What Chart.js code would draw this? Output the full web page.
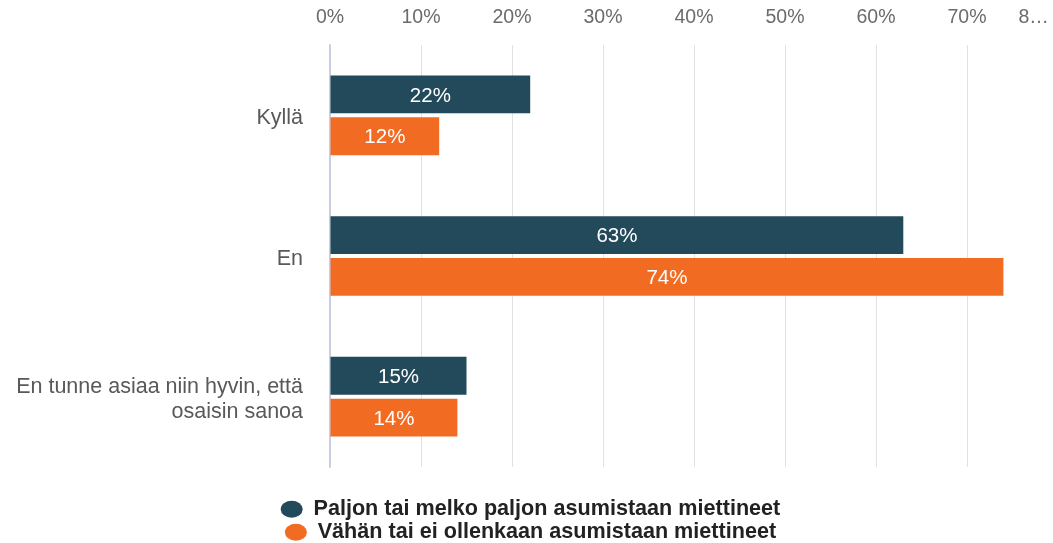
<!DOCTYPE html>
<html>
<head>
<meta charset="utf-8">
<script src="https://cdn.jsdelivr.net/npm/chart.js@4/dist/chart.umd.min.js"></script>
<style>
  html, body { margin: 0; padding: 0; background: #ffffff; overflow: hidden; }
  #wrap { width: 1053px; height: 543px; overflow: hidden; position: relative; background: #ffffff; }
  canvas { display: block; }
</style>
</head>
<body>
<div id="wrap"><canvas id="chart" width="1058" height="553"></canvas></div>
<script>
// ---- data ----
const categories = ['Kyllä', 'En', ['En tunne asiaa niin hyvin, että', 'osaisin sanoa']];
const seriesNames = ['Paljon tai melko paljon asumistaan miettineet', 'Vähän tai ei ollenkaan asumistaan miettineet'];
const paljonValues = [22, 63, 15];
const vahanValues = [12, 74, 14];
const xTickLabels = ['0%', '10%', '20%', '30%', '40%', '50%', '60%', '70%', '8…'];
const seriesColors = ['#234a5a', '#f26b23'];

const FONT = "'Liberation Sans', Arial, Helvetica, sans-serif";
Chart.defaults.font.family = FONT;

const LAST_TICK_PAD = ' '.repeat(9);
const LEGEND_PAD = ' '.repeat(4);

const barValueLabels = {
  id: 'barValueLabels',
  afterDatasetsDraw(chart) {
    const ctx = chart.ctx;
    ctx.save();
    ctx.font = '20.5px ' + FONT;
    ctx.fillStyle = '#ffffff';
    ctx.textAlign = 'center';
    ctx.textBaseline = 'middle';
    chart.data.datasets.forEach((ds, di) => {
      const meta = chart.getDatasetMeta(di);
      meta.data.forEach((bar, i) => {
        ctx.fillText(ds.data[i] + '%', (bar.x + bar.base) / 2, bar.y + 1.5);
      });
    });
    ctx.restore();
  }
};

new Chart(document.getElementById('chart'), {
  type: 'bar',
  data: {
    labels: categories,
    datasets: [
      { label: seriesNames[0], data: paljonValues, backgroundColor: seriesColors[0], borderWidth: 0,
        categoryPercentage: 0.594, barPercentage: 0.905 },
      { label: seriesNames[1], data: vahanValues, backgroundColor: seriesColors[1], borderWidth: 0,
        categoryPercentage: 0.594, barPercentage: 0.905 }
    ]
  },
  options: {
    indexAxis: 'y',
    responsive: false,
    animation: false,
    devicePixelRatio: 1,
    layout: { padding: { left: 27, right: 0, top: 0, bottom: 0 } },
    scales: {
      x: {
        position: 'top',
        min: 0,
        max: 80,
        ticks: {
          stepSize: 10,
          autoSkip: false,
          maxRotation: 0,
          padding: 16,
          color: '#6b6b6b',
          font: { size: 19.5 },
          callback: (v, i) => xTickLabels[i] + (i === xTickLabels.length - 1 ? LAST_TICK_PAD : '')
        },
        grid: {
          drawTicks: false,
          lineWidth: 1,
          color: (c) => (c.tick && c.tick.value === 0 ? '#c9cee0' : '#e2e2e2')
        },
        border: { display: false },
        afterFit: (s) => { s.height = 45; s.paddingRight = 0; }
      },
      y: {
        ticks: { color: '#595959', font: { size: 21.5 }, padding: 27, labelOffset: 3 },
        grid: { display: false, drawTicks: false },
        border: { display: true, color: '#c9cee0', width: 1.5 },
        afterFit: (s) => {
          s.width = 303;
          s.paddingTop = 0;
          s.paddingBottom = 0;
          s._computeLabelArea = () => undefined;
        }
      }
    },
    plugins: {
      tooltip: { enabled: false },
      legend: {
        position: 'bottom',
        align: 'center',
        title: { display: true, text: '', font: { size: 10 }, padding: { top: 18, bottom: 0 } },
        labels: {
          usePointStyle: true,
          pointStyle: 'circle',
          pointStyleWidth: 22,
          boxHeight: 12,
          padding: 1.4,
          color: '#222222',
          font: { size: 21.6, weight: 'bold' },
          generateLabels: (chart) => {
            const items = Chart.defaults.plugins.legend.labels.generateLabels(chart);
            items.forEach((it) => { it.text = it.text + LEGEND_PAD; it.lineWidth = 0; });
            return items;
          }
        }
      }
    }
  },
  plugins: [barValueLabels]
});
</script>
</body>
</html>
